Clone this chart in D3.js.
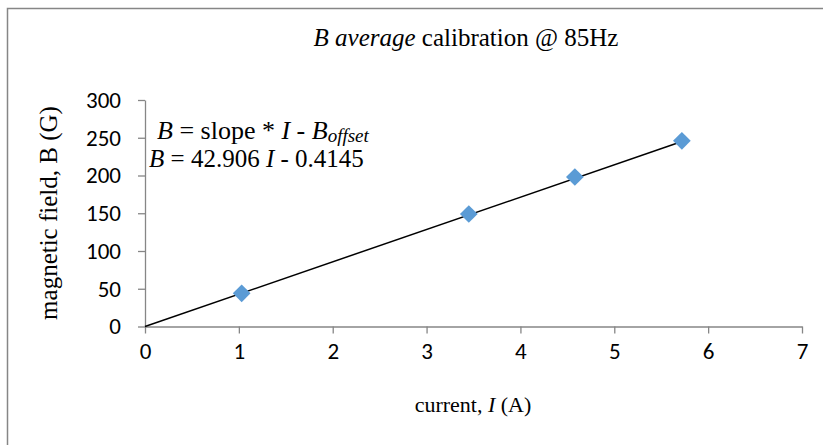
<!DOCTYPE html>
<html>
<head>
<meta charset="utf-8">
<script src="https://cdn.jsdelivr.net/npm/d3@7"></script>
<style>
  body { margin: 0; background: #fff; }
  svg { display: block; }
</style>
</head>
<body>
<svg id="chart" width="823" height="445"></svg>
<script>
// ---------------------------------------------
// Data
// ---------------------------------------------

// Measured current (A)
let currentValues = [1.03, 3.45, 4.58, 5.72];

// Measured average field (G)
let fieldValues = [44, 149, 198, 246];

// Linear fit B = slope * I - offset
let fitSlope = 42.906;
let fitOffset = 0.4145;

let xTickValues = [0, 1, 2, 3, 4, 5, 6, 7];
let yTickValues = [0, 50, 100, 150, 200, 250, 300];

// ---------------------------------------------
// Drawing
// ---------------------------------------------

let svg = d3.select('#chart');
let serif = '"Liberation Serif", "Times New Roman", serif';
let sans = 'Carlito, Calibri, Lato, sans-serif';
let axisGrey = '#868686';

let scaleX = d3.scaleLinear().domain([0, 7]).range([145, 802]);
let scaleY = d3.scaleLinear().domain([0, 300]).range([326.5, 100]);

// Outer chart frame (runs off the right and bottom edges)
svg.append('rect')
    .attr('x', 7.5)
    .attr('y', 8.5)
    .attr('width', 840)
    .attr('height', 460)
    .attr('fill', 'none')
    .attr('stroke', axisGrey)
    .attr('stroke-width', 1.5);

// Title
let title = svg.append('text')
    .attr('x', 466)
    .attr('y', 46)
    .attr('text-anchor', 'middle')
    .style('font-family', serif)
    .style('font-size', '25px')
    .attr('fill', '#000');
title.append('tspan').style('font-style', 'italic').text('B average');
title.append('tspan').text(' calibration @ 85Hz');

// Axes
let xAxis = d3.axisBottom(scaleX)
    .tickValues(xTickValues)
    .tickSize(7)
    .tickSizeOuter(0)
    .tickPadding(9)
    .tickFormat(d3.format('d'));

let yAxis = d3.axisLeft(scaleY)
    .tickValues(yTickValues)
    .tickSize(7)
    .tickSizeOuter(0)
    .tickPadding(17)
    .tickFormat(d3.format('d'));

let gx = svg.append('g')
    .attr('transform', 'translate(0,' + scaleY(0) + ')')
    .call(xAxis);

let gy = svg.append('g')
    .attr('transform', 'translate(' + scaleX(0) + ',0)')
    .call(yAxis);

[gx, gy].forEach((g) => {
  g.select('.domain').attr('stroke', axisGrey).attr('stroke-width', 1.3);
  g.selectAll('.tick line').attr('stroke', axisGrey).attr('stroke-width', 1.3);
  g.selectAll('.tick text')
      .attr('fill', '#000')
      .style('font-family', sans)
      .style('font-size', '23px');
});

// Axis titles
let xTitle = svg.append('text')
    .attr('x', 473)
    .attr('y', 412)
    .attr('text-anchor', 'middle')
    .style('font-family', serif)
    .style('font-size', '22px');
xTitle.append('tspan').text('current, ');
xTitle.append('tspan').style('font-style', 'italic').text('I');
xTitle.append('tspan').text(' (A)');

svg.append('text')
    .attr('transform', 'translate(57,' + 213 + ') rotate(-90)')
    .attr('text-anchor', 'middle')
    .style('font-family', serif)
    .style('font-size', '25px')
    .text('magnetic field, B (G)');

// Trendline from the origin to the last point
let lastI = d3.max(currentValues);
svg.append('line')
    .attr('x1', scaleX(0))
    .attr('y1', scaleY(Math.max(0, -fitOffset)))
    .attr('x2', scaleX(lastI))
    .attr('y2', scaleY(fitSlope * lastI - fitOffset))
    .attr('stroke', '#000')
    .attr('stroke-width', 1.5);

// Data points as diamonds
let points = currentValues.map((x, i) => ({x: x, y: fieldValues[i]}));
svg.selectAll('path.point').data(points)
    .join('path')
    .attr('class', 'point')
    .attr('d', d3.symbol().type(d3.symbolDiamond2).size(200))
    .attr('transform', (p) => 'translate(' + scaleX(p.x) + ',' + scaleY(p.y) + ')')
    .attr('fill', '#5B9BD5');

// Fit equation annotation
let eq1 = svg.append('text')
    .attr('x', 157)
    .attr('y', 139)
    .style('font-family', serif)
    .style('font-size', '26px');
eq1.append('tspan').style('font-style', 'italic').text('B');
eq1.append('tspan').text(' = slope * ');
eq1.append('tspan').style('font-style', 'italic').text('I');
eq1.append('tspan').text(' - ');
eq1.append('tspan').style('font-style', 'italic').text('B');
eq1.append('tspan')
    .style('font-style', 'italic')
    .style('font-size', '19px')
    .attr('dy', 3)
    .text('offset');

let eq2 = svg.append('text')
    .attr('x', 149)
    .attr('y', 167)
    .style('font-family', serif)
    .style('font-size', '25px');
eq2.append('tspan').style('font-style', 'italic').text('B');
eq2.append('tspan').text(' = ' + fitSlope + ' ');
eq2.append('tspan').style('font-style', 'italic').text('I');
eq2.append('tspan').text(' - ' + fitOffset);
</script>
</body>
</html>
